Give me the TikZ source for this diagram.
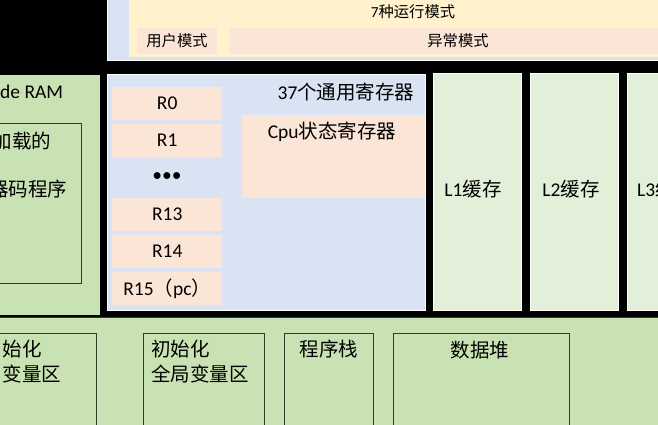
\documentclass[tikz,border=0pt]{standalone}
\usepackage{fontspec}
\setmainfont{Carlito}
\newfontfamily\cjk{Noto Sans CJK SC}
\usetikzlibrary{positioning}

\definecolor{cpuBlue}{HTML}{DAE3F3}
\definecolor{modeYellow}{HTML}{FFF2CC}
\definecolor{regPeach}{HTML}{FBE5D6}
\definecolor{ramGreen}{HTML}{C8E2B4}
\definecolor{cacheGreen}{HTML}{E2F0D9}
\definecolor{lineGreen}{HTML}{2E3F24}

\newcommand{\bigSize}{\fontsize{19.5}{23}\selectfont}
\newcommand{\smallSize}{\fontsize{15.3}{18}\selectfont}

\tikzset{
  txt/.style={inner sep=0pt, font=\bigSize},
  smallTxt/.style={inner sep=0pt, font=\smallSize},
  regBox/.style={fill=regPeach, inner sep=0pt, minimum width=110pt,
    minimum height=33pt, anchor=north west, font=\bigSize},
  areaLine/.style={draw=lineGreen, line width=0.9pt},
  thinWhite/.style={draw=white, line width=0.6pt},
}

\begin{document}
\begin{tikzpicture}[x=1pt,y=-1pt]
    \useasboundingbox (0,0) rectangle (658,425);
    \clip (0,0) rectangle (658,425);

    % black ground
    \fill[black] (0,0) rectangle (658,318);

    % run modes
    \path[fill=cpuBlue, thinWhite] (107,-5) rectangle (663,60);
    \fill[modeYellow] (129,-5) rectangle (663,57);
    \fill[regPeach] (137,28) rectangle (217,54);
    \fill[regPeach] (229,28) rectangle (687,54);
    \node[smallTxt] (modeTitle) at (413,12) {7{\cjk 种运行模式}};
    \node[smallTxt] (userMode) at (177,41) {\cjk 用户模式};
    \node[smallTxt] (excMode) at (458,41) {\cjk 异常模式};

    % ram on the left
    \fill[ramGreen] (0,75) rectangle (100,315);
    \draw[areaLine] (-5,123) rectangle (81,283);
    \node[txt, anchor=west] (ramTitle) at (0,92) {de RAM};
    \node[txt, anchor=west] (loaderA) at (-7.5,141) {\cjk 加载的};
    \node[txt, anchor=west] (loaderB) at (-11,189) {\cjk 器码程序};

    % cpu registers
    \path[fill=cpuBlue, thinWhite] (107,74) rectangle (425,310);
    \node[txt] (regTitle) at (346,92) {37{\cjk 个通用寄存器}};
    \fill[regPeach] (242,115) rectangle (425,198);
    \node[txt] (statusReg) at (332,132) {Cpu{\cjk 状态寄存器}};
    \node[regBox] (regR0) at (112,87) {R0};
    \node[regBox] (regR1) at (112,124) {R1};
    \node[txt] (regDots) at (167,177.5) {\textbullet\textbullet\textbullet};
    \node[regBox] (regR13) at (112,198) {R13};
    \node[regBox] (regR14) at (112,235) {R14};
    \node[regBox] (regR15) at (112,272) {R15{\cjk （}pc{\cjk ）}};

    % caches
    \path[fill=cacheGreen, thinWhite] (433,73) rectangle (521,310);
    \path[fill=cacheGreen, thinWhite] (530,73) rectangle (618,310);
    \path[fill=cacheGreen, thinWhite] (627,73) rectangle (700,310);
    \node[txt] (cacheL1) at (473,189) {L1{\cjk 缓存}};
    \node[txt] (cacheL2) at (571,189) {L2{\cjk 缓存}};
    \node[txt, anchor=west] (cacheL3) at (637,189) {L3{\cjk 缓}};

    % memory areas
    \path[fill=ramGreen, areaLine] (-5,317) rectangle (663,430);
    \draw[areaLine] (-5,333) rectangle (96,440);
    \draw[areaLine] (143,333) rectangle (264,440);
    \draw[areaLine] (284,333) rectangle (373,440);
    \draw[areaLine] (393,333) rectangle (569,440);
    \node[txt, anchor=west] (bssA) at (2.5,349) {\cjk 始化};
    \node[txt, anchor=west] (bssB) at (2.5,374) {\cjk 变量区};
    \node[txt, anchor=west] (dataA) at (151,349) {\cjk 初始化};
    \node[txt, anchor=west] (dataB) at (151,374) {\cjk 全局变量区};
    \node[txt] (stackArea) at (329,349) {\cjk 程序栈};
    \node[txt] (heapArea) at (480,350) {\cjk 数据堆};

\end{tikzpicture}
\end{document}
